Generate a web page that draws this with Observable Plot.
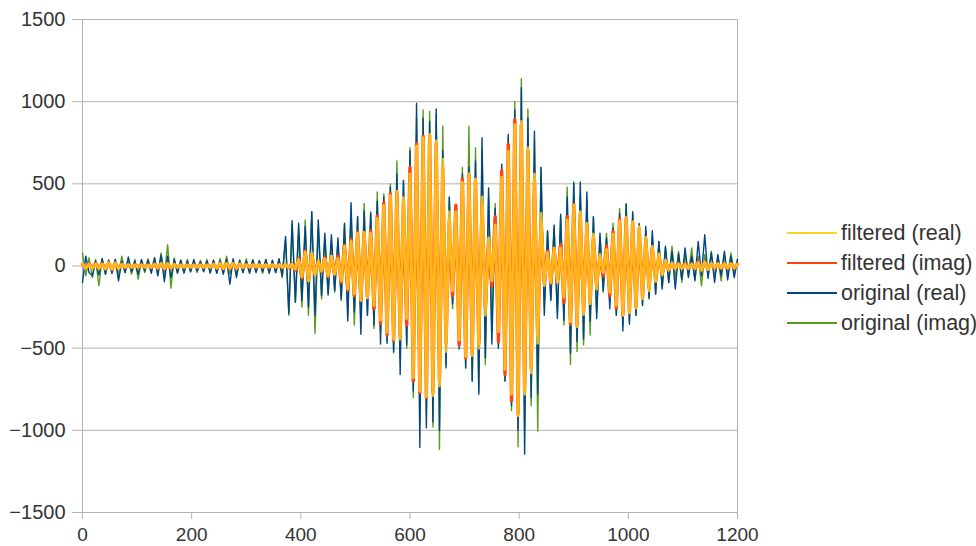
<!DOCTYPE html>
<html>
<head>
<meta charset="utf-8">
<script src="https://cdn.jsdelivr.net/npm/d3@7"></script>
<script src="https://cdn.jsdelivr.net/npm/@observablehq/plot@0.6"></script>
<style>
  html, body { margin: 0; padding: 0; background: #ffffff; }
  #wrap { position: relative; width: 976px; height: 546px; font-family: "Liberation Sans", Arial, sans-serif; }
  #wrap svg { position: absolute; left: 0; top: 0; overflow: visible; }
  .lg-line { position: absolute; left: 787px; width: 50px; height: 1.6px; }
  .lg-text { position: absolute; left: 841px; font-size: 21.5px; line-height: 24px; color: #333333; white-space: nowrap; }
</style>
</head>
<body>
<div id="wrap"></div>
<script>
// ---- chart data ----
const sampleStep = 6; // one value every 6 samples along the x axis

const seriesNames = ["filtered (real)", "filtered (imag)", "original (real)", "original (imag)"];
const seriesColors = ["#ffd320", "#ff420e", "#004586", "#579d1c"];

const xTicks = [0, 200, 400, 600, 800, 1000, 1200];
const yTicks = [-1500, -1000, -500, 0, 500, 1000, 1500];

const filteredReal = [
  15,-15,12,-15,12,-15,12,-18,20,-20,
  18,-15,10,-8,8,-8,6,-8,6,-8,
  6,-8,10,-12,15,-16,15,-12,10,-8,
  6,-8,6,-8,6,-8,6,-8,6,-8,
  10,-12,15,-15,14,-15,15,-15,12,-10,
  8,-6,8,-6,8,-6,8,-6,8,-6,
  8,-8,10,-10,12,-20,40,-65,85,-90,
  80,-55,30,-30,45,-60,60,-50,45,-90,
  120,-140,150,-170,200,-210,205,-195,200,-240,
  290,-330,370,-405,430,-445,455,-445,415,-320,
  560,-680,730,-760,780,-795,800,-790,760,-730,
  650,-520,330,-150,330,-450,510,-550,560,-545,
  530,-500,420,-300,170,-90,250,-400,540,-630,
  700,-780,860,-910,880,-780,720,-650,560,-470,
  320,-120,80,-100,110,-100,110,-190,280,-340,
  370,-370,330,-295,260,-230,195,-140,70,-40,
  100,-160,195,-240,275,-300,295,-285,270,-255,
  240,-200,175,-150,120,-95,75,-55,35,-25,
  18,-15,12,-15,12,-15,12,-15,22,-25,
  25,-22,15,-12,15,-12,15,-12,15,-12,10
];

const filteredImag = [
  12,-14,14,-12,15,-13,14,-16,19,-21,
  17,-14,11,-9,7,-8,7,-6,8,-7,
  7,-9,11,-13,14,-17,14,-13,9,-7,
  7,-7,6,-7,7,-6,7,-7,6,-7,
  11,-13,14,-16,15,-14,16,-14,11,-9,
  7,-7,7,-6,7,-7,6,-7,7,-7,
  7,-9,9,-11,14,-25,45,-70,88,-86,
  72,-48,28,-34,50,-62,57,-48,60,-100,
  125,-145,160,-180,205,-205,200,-190,215,-260,
  305,-350,385,-420,440,-450,450,-430,390,-360,
  600,-700,745,-770,790,-800,795,-770,745,-700,
  600,-470,280,-180,370,-480,530,-560,555,-540,
  520,-470,380,-250,140,-120,300,-460,580,-660,
  740,-820,890,-900,860,-760,700,-620,520,-420,
  260,-100,90,-105,105,-95,130,-220,300,-355,
  375,-360,315,-280,250,-215,175,-110,55,-60,
  120,-180,210,-255,285,-300,290,-280,265,-250,
  225,-190,165,-135,110,-85,65,-45,30,-22,
  16,-14,13,-13,14,-13,12,-16,24,-24,
  23,-20,14,-13,14,-13,13,-13,14,-13,11
];

const originalReal = [
  -100,60,-40,-60,30,-55,45,-50,35,-45,
  40,-90,30,-40,55,-35,30,-50,40,-30,
  35,-45,50,-60,65,-95,60,-70,40,-45,
  35,-40,30,-35,40,-30,25,-35,30,-40,
  35,-45,30,-50,40,-110,45,-70,35,-40,
  30,-45,35,-40,30,-35,40,-45,35,-40,
  45,-60,180,-290,275,-220,260,-210,240,-250,
  330,-300,280,-180,200,-170,190,-150,170,-200,
  260,-335,385,-280,300,-415,335,-300,320,-360,
  395,-475,420,-470,480,-520,560,-660,520,-480,
  700,-760,990,-1105,900,-985,880,-950,955,-1000,
  700,-620,420,-230,335,-505,560,-620,600,-700,
  640,-780,780,-560,475,-475,350,-500,620,-700,
  800,-850,950,-1000,1085,-1145,900,-800,820,-780,
  600,-300,215,-210,250,-320,315,-330,420,-530,
  510,-460,510,-445,450,-335,300,-320,200,-150,
  170,-260,230,-300,320,-395,375,-355,330,-300,
  255,-240,240,-195,215,-170,150,-140,120,-100,
  90,-140,75,-80,110,-70,60,-90,150,-60,
  190,-75,80,-100,70,-60,90,-85,60,-70,40
];

const originalImag = [
  80,-60,50,-70,40,-120,45,-50,35,-45,
  40,-55,60,-40,35,-50,40,-80,30,-40,
  45,-35,50,-45,80,-60,130,-135,50,-40,
  35,-45,40,-35,30,-40,35,-30,40,-45,
  35,-40,45,-35,60,-50,40,-45,35,-40,
  45,-35,40,-30,35,-45,40,-35,30,-40,
  35,-70,160,-300,250,-220,200,-250,280,-300,
  330,-410,240,-200,160,-180,150,-160,140,-210,
  250,-300,320,-360,300,-320,380,-300,330,-380,
  450,-400,440,-460,500,-530,640,-560,520,-500,
  720,-800,900,-950,950,-900,940,-980,920,-1115,
  850,-600,415,-260,350,-480,600,-620,850,-700,
  720,-760,700,-600,420,-400,380,-480,600,-700,
  780,-880,1000,-1100,1140,-1000,955,-850,760,-1005,
  600,-250,210,-200,230,-280,300,-360,480,-600,
  500,-520,430,-480,400,-420,300,-280,180,-160,
  200,-220,260,-300,350,-360,380,-340,320,-300,
  260,-230,210,-200,180,-170,150,-130,110,-100,
  120,-80,90,-100,70,-60,110,-80,60,-120,
  70,-60,90,-70,60,-90,70,-60,80,-50,40
];

// ---- build a long table for Plot ----
const seriesValues = [filteredReal, filteredImag, originalReal, originalImag];
const rows = [];
seriesValues.forEach((vals, s) => {
  vals.forEach((v, i) => rows.push({series: seriesNames[s], x: i * sampleStep, y: v}));
});

// draw order: originals first, filtered on top
const drawOrder = [3, 2, 1, 0];
const widths = [3.0, 3.4, 1.4, 1.4];
const opac = [0.8, 1, 1, 1];

const fmt = d3.format("d");

const chart = Plot.plot({
  width: 976,
  height: 546,
  marginLeft: 82,
  marginRight: 239,
  marginTop: 19,
  marginBottom: 34,
  style: {
    fontFamily: "'Liberation Sans', Arial, sans-serif",
    fontSize: "19px",
    color: "#333333",
    background: "transparent"
  },
  x: {domain: [0, 1200], label: null},
  y: {domain: [-1500, 1500], label: null},
  marks: [
    Plot.gridY(yTicks, {stroke: "#b3b3b3", strokeOpacity: 1, strokeWidth: 1}),
    Plot.frame({stroke: "#b3b3b3", strokeWidth: 1}),
    Plot.axisY(yTicks, {tickSize: 10, tickPadding: 7, stroke: "#b3b3b3", fill: "#333333", fontSize: 20, tickFormat: fmt, label: null}),
    Plot.axisX(xTicks, {tickSize: 7, tickPadding: 8, stroke: "#b3b3b3", fill: "#333333", fontSize: 19, tickFormat: fmt, label: null}),
    ...drawOrder.map(s => Plot.line(rows.filter(r => r.series === seriesNames[s]), {
      x: "x", y: "y", stroke: seriesColors[s], strokeWidth: widths[s], strokeOpacity: opac[s], curve: "linear"
    }))
  ]
});

const wrap = document.getElementById("wrap");
wrap.appendChild(chart);

// legend on the right side
seriesNames.forEach((name, i) => {
  const cy = 233 + 30 * i;
  const ln = document.createElement("div");
  ln.className = "lg-line";
  ln.style.top = (cy - 0.8) + "px";
  ln.style.background = seriesColors[i];
  wrap.appendChild(ln);
  const tx = document.createElement("div");
  tx.className = "lg-text";
  tx.style.top = (cy - 12) + "px";
  tx.textContent = name;
  wrap.appendChild(tx);
});
</script>
</body>
</html>
